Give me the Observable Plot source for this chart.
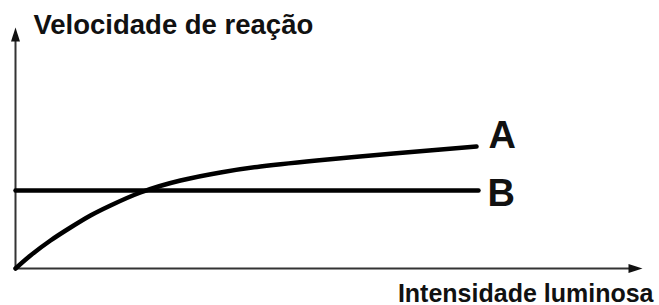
<!DOCTYPE html>
<html>
<head>
<meta charset="utf-8">
<script src="https://cdn.jsdelivr.net/npm/d3@7"></script>
<script src="https://cdn.jsdelivr.net/npm/@observablehq/plot@0.6"></script>
<style>
  html, body { margin: 0; padding: 0; background: #fff; }
  svg { display: block; }
</style>
</head>
<body>
<script>
// Data (arbitrary units)
const seriesNames = ["A", "B"];
const curveAx = [0, 15, 35, 55, 75, 95, 125, 165, 205, 245, 312, 378, 461];
const curveAy = [0, 13, 28, 41, 53, 63, 76, 88, 96, 102, 109, 115, 122];
const lineBx = [0, 463];
const lineBy = [78, 78];
const yAxisLabel = "Velocidade de reação";
const xAxisLabel = "Intensidade luminosa";
const xMax = 627;
const yMax = 241;

const A = curveAx.map((x, i) => ({x, y: curveAy[i]}));
const B = lineBx.map((x, i) => ({x, y: lineBy[i]}));

// narrow filled arrowhead, tip at origin pointing up
const arrowHead = {
  draw(ctx) {
    ctx.moveTo(0, 0);
    ctx.lineTo(-4.5, 14);
    ctx.lineTo(4.5, 14);
    ctx.closePath();
  }
};

const font = "'Liberation Sans', Arial, sans-serif";

const chart = Plot.plot({
  width: 659,
  height: 305,
  marginLeft: 15,
  marginRight: 17,
  marginTop: 27,
  marginBottom: 37,
  style: {background: "#fff", fontFamily: font},
  x: {domain: [0, xMax], axis: null},
  y: {domain: [0, yMax], axis: null},
  marks: [
    // axes
    Plot.line([{x: 0, y: 0}, {x: 0, y: yMax - 10}], {x: "x", y: "y", stroke: "#333", strokeWidth: 2}),
    Plot.line([{x: 0, y: 0}, {x: xMax - 10, y: 0}], {x: "x", y: "y", stroke: "#333", strokeWidth: 2}),
    Plot.dot([{x: 0, y: yMax}], {x: "x", y: "y", symbol: arrowHead, fill: "#111", stroke: "none", rotate: 0}),
    Plot.dot([{x: xMax, y: 0}], {x: "x", y: "y", symbol: arrowHead, fill: "#111", stroke: "none", rotate: 90}),
    // series
    Plot.line(B, {x: "x", y: "y", stroke: "#000", strokeWidth: 4.5}),
    Plot.line(A, {x: "x", y: "y", stroke: "#000", strokeWidth: 4.5, curve: "natural"}),
    // series labels
    Plot.text([A[A.length - 1]], {x: "x", y: "y", text: () => seriesNames[0], textAnchor: "start", lineAnchor: "bottom", dx: 12, dy: 1, fontSize: 38, fontWeight: "bold", fill: "#111"}),
    Plot.text([B[B.length - 1]], {x: "x", y: "y", text: () => seriesNames[1], textAnchor: "start", lineAnchor: "bottom", dx: 9, dy: 15, fontSize: 38, fontWeight: "bold", fill: "#111"}),
    // axis labels
    Plot.text([yAxisLabel], {frameAnchor: "top-left", text: d => d, textAnchor: "start", lineAnchor: "bottom", dx: 18, dy: 6, fontSize: 27.5, fontWeight: "bold", fill: "#111"}),
    Plot.text([xAxisLabel], {frameAnchor: "bottom-right", text: d => d, textAnchor: "end", lineAnchor: "bottom", dx: 11, dy: 33, fontSize: 25, fontWeight: "bold", fill: "#111"})
  ]
});
document.body.appendChild(chart);
</script>
</body>
</html>
